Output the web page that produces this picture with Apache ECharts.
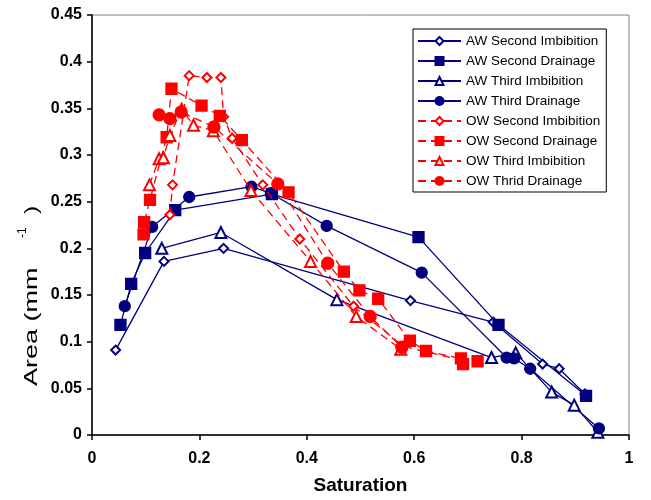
<!DOCTYPE html>
<html>
<head>
<meta charset="utf-8">
<script src="https://cdn.jsdelivr.net/npm/echarts@6/dist/echarts.min.js"></script>
<style>
html,body{margin:0;padding:0;background:#fff;}
#chart{width:651px;height:500px;}
</style>
</head>
<body>
<div id="chart"></div>
<script>
// ---- Data ----
const seriesNames = ['AW Second Imbibition','AW Second Drainage','AW Third Imbibition','AW Third Drainage',
                     'OW Second Imbibition','OW Second Drainage','OW Third Imbibition','OW Thrid Drainage'];

const awSecondImbX = [0.044, 0.134, 0.245, 0.593, 0.747, 0.839, 0.870, 0.918];
const awSecondImbY = [0.091, 0.186, 0.200, 0.144, 0.121, 0.076, 0.071, 0.044];

const awSecondDrnX = [0.053, 0.073, 0.099, 0.155, 0.335, 0.608, 0.757, 0.920];
const awSecondDrnY = [0.118, 0.162, 0.195, 0.241, 0.258, 0.212, 0.118, 0.042];

const awThirdImbX = [0.130, 0.240, 0.456, 0.744, 0.789, 0.856, 0.898, 0.942];
const awThirdImbY = [0.200, 0.217, 0.145, 0.083, 0.088, 0.046, 0.032, 0.003];

const awThirdDrnX = [0.061, 0.112, 0.181, 0.297, 0.333, 0.437, 0.614, 0.772, 0.786, 0.816, 0.944];
const awThirdDrnY = [0.138, 0.223, 0.255, 0.266, 0.259, 0.224, 0.174, 0.083, 0.082, 0.071, 0.007];

const owSecondImbX = [0.145, 0.150, 0.181, 0.214, 0.240, 0.245, 0.261, 0.318, 0.387, 0.487, 0.580, 0.690];
const owSecondImbY = [0.236, 0.268, 0.385, 0.383, 0.383, 0.341, 0.318, 0.268, 0.210, 0.138, 0.095, 0.080];

const owSecondDrnX = [0.096, 0.097, 0.108, 0.139, 0.148, 0.204, 0.238, 0.279, 0.366, 0.469, 0.498, 0.533, 0.592, 0.622, 0.687, 0.691, 0.718];
const owSecondDrnY = [0.215, 0.228, 0.252, 0.319, 0.371, 0.353, 0.342, 0.316, 0.260, 0.175, 0.155, 0.146, 0.101, 0.090, 0.082, 0.076, 0.079];

const owThirdImbX = [0.107, 0.125, 0.133, 0.145, 0.167, 0.189, 0.226, 0.296, 0.407, 0.492, 0.575];
const owThirdImbY = [0.268, 0.296, 0.297, 0.321, 0.349, 0.332, 0.326, 0.262, 0.186, 0.127, 0.092];

const owThirdDrnX = [0.125, 0.145, 0.166, 0.227, 0.346, 0.439, 0.518, 0.577];
const owThirdDrnY = [0.343, 0.339, 0.346, 0.330, 0.269, 0.184, 0.127, 0.094];

const xTicks = [0, 0.2, 0.4, 0.6, 0.8, 1];
const yTicks = [0, 0.05, 0.1, 0.15, 0.2, 0.25, 0.3, 0.35, 0.4, 0.45];

const xTitle = 'Saturation';
const yTitleMain = 'Area (mm';
const yTitleSup = '-1';
const yTitleEnd = ')';

// ---- Build ----
function pairs(xs, ys){ return xs.map((x,i)=>[x, ys[i]]); }

const NAVY = '#000080', RED = '#FF0000';
const FONT = 'Liberation Sans, Arial, sans-serif';

const defs = [
  {x:awSecondImbX, y:awSecondImbY, c:NAVY, sym:'emptyDiamond', size:9, dash:false},
  {x:awSecondDrnX, y:awSecondDrnY, c:NAVY, sym:'rect', size:11, dash:false},
  {x:awThirdImbX, y:awThirdImbY, c:NAVY, sym:'emptyTriangle', size:11, dash:false},
  {x:awThirdDrnX, y:awThirdDrnY, c:NAVY, sym:'circle', size:11, dash:false},
  {x:owSecondImbX, y:owSecondImbY, c:RED, sym:'emptyDiamond', size:9, dash:true},
  {x:owSecondDrnX, y:owSecondDrnY, c:RED, sym:'rect', size:11, dash:true},
  {x:owThirdImbX, y:owThirdImbY, c:RED, sym:'emptyTriangle', size:11, dash:true},
  {x:owThirdDrnX, y:owThirdDrnY, c:RED, sym:'circle', size:12, dash:true}
];

const series = defs.map((d,i)=>({
  name: seriesNames[i],
  type: 'line',
  data: pairs(d.x, d.y),
  symbol: d.sym,
  symbolSize: d.size,
  showAllSymbol: true,
  animation: false,
  z: d.c === RED ? 3 : 2,
  lineStyle: {color: d.c, width: 1.3, type: d.dash ? [8,5] : 'solid'},
  itemStyle: {color: d.c, borderColor: d.c, borderWidth: 1.3},
  emphasis: {disabled: true}
}));

const chart = echarts.init(document.getElementById('chart'), null, {renderer:'canvas'});
chart.setOption({
  backgroundColor: '#fff',
  animation: false,
  grid: {left: 92, right: 22, top: 15, bottom: 60, show: true, borderColor: '#808080', borderWidth: 1, backgroundColor: 'transparent'},
  legend: {
    orient: 'vertical',
    left: 413, top: 29,
    data: seriesNames,
    itemWidth: 43, itemHeight: 10, itemGap: 6,
    padding: [5, 6, 4, 4],
    borderColor: '#000', borderWidth: 1,
    backgroundColor: '#fff',
    textStyle: {fontFamily: FONT, fontSize: 13.5, color: '#000', lineHeight: 14}
  },
  graphic: [
    {type:'text', x:32, y:386, rotation:Math.PI/2, scaleX:1.42, silent:true,
     style:{text:yTitleMain, fontFamily:FONT, fontSize:19, fill:'#000', align:'left', verticalAlign:'middle'}},
    {type:'text', x:23, y:238, rotation:Math.PI/2, silent:true,
     style:{text:yTitleSup, fontFamily:FONT, fontSize:12, fill:'#000', align:'left', verticalAlign:'middle'}},
    {type:'text', x:32, y:214, rotation:Math.PI/2, scaleX:1.3, silent:true,
     style:{text:yTitleEnd, fontFamily:FONT, fontSize:19, fill:'#000', align:'left', verticalAlign:'middle'}}
  ],
  xAxis: {
    type: 'value', min: 0, max: 1, interval: 0.2,
    name: xTitle, nameLocation: 'middle', nameGap: 41,
    nameTextStyle: {fontFamily: FONT, fontSize: 19, fontWeight: 'bold', color: '#000'},
    axisLine: {show: true, lineStyle: {color: '#000', width: 1.5}},
    axisTick: {show: true, inside: false, length: 5, lineStyle: {color: '#000', width: 1.5}},
    axisLabel: {margin: 16, fontFamily: FONT, fontSize: 16, fontWeight: 'bold', color: '#000',
      formatter: v => String(xTicks.find(t => Math.abs(t - v) < 1e-9) ?? v)},
    splitLine: {show: false}
  },
  yAxis: {
    type: 'value', min: 0, max: 0.45, interval: 0.05,
    axisLine: {show: true, lineStyle: {color: '#000', width: 1.5}},
    axisTick: {show: true, inside: false, length: 5, lineStyle: {color: '#000', width: 1.5}},
    axisLabel: {margin: 10, fontFamily: FONT, fontSize: 16, fontWeight: 'bold', color: '#000',
      formatter: v => String(yTicks.find(t => Math.abs(t - v) < 1e-9) ?? v)},
    splitLine: {show: false}
  },
  series: series
});
</script>
</body>
</html>
